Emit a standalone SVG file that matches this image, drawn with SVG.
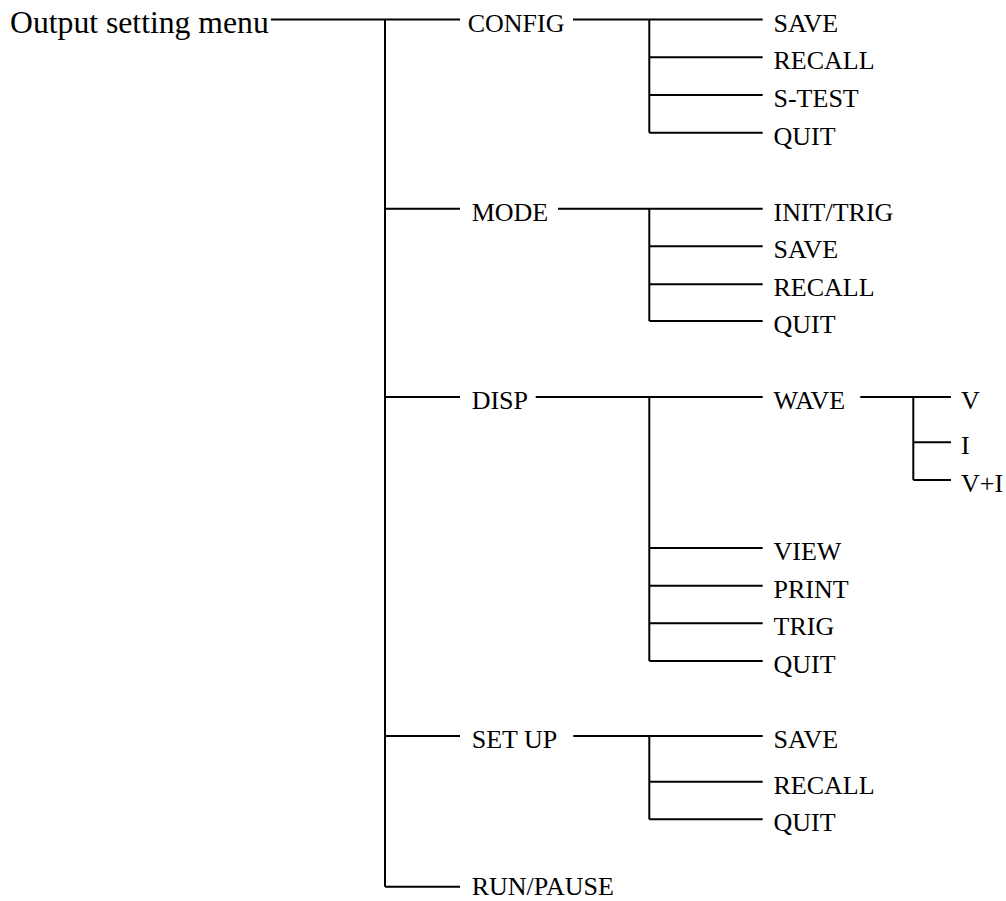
<svg xmlns="http://www.w3.org/2000/svg" width="1006" height="901" viewBox="0 0 1006 901">
<style>
.t{font-family:"Liberation Serif","Times New Roman",serif;font-size:26px;fill:#000}
.root{font-size:31.7px}
.c{stroke:#000;stroke-width:2;fill:none}
</style>
<rect width="1006" height="901" fill="#fff"/>
<g id="connectors" class="c">
<path d="M271 19.5H460M385 19.5V886.7"/>
<path d="M385 208.7H460M385 397H460M385 736H460M385 886.7H460"/>
<path d="M573 19.5H762.7M649.3 19.5V132.7M649.3 57.3H762.7M649.3 95H762.7M649.3 132.7H762.7"/>
<path d="M558 208.7H762.7M649.3 208.7V321M649.3 246.3H762.7M649.3 284.3H762.7M649.3 321H762.7"/>
<path d="M535.7 397H762.7M649.3 397V661M649.3 548H762.7M649.3 585.7H762.7M649.3 623.3H762.7M649.3 661H762.7"/>
<path d="M860.3 397H951M913.3 397V480M913.3 442.3H951M913.3 480H951"/>
<path d="M573.3 736H762.7M649.3 736V819.3M649.3 781.7H762.7M649.3 819.3H762.7"/>
</g>
<g id="root"><text class="t root" x="10" y="33">Output setting menu</text></g>
<g id="config"><text class="t" x="467.7" y="31.5">CONFIG</text></g>
<g id="config-save"><text class="t" x="773.5" y="31.5">SAVE</text></g>
<g id="config-recall"><text class="t" x="773.5" y="69.3">RECALL</text></g>
<g id="config-stest"><text class="t" x="773.5" y="107">S-TEST</text></g>
<g id="config-quit"><text class="t" x="773.5" y="144.7">QUIT</text></g>
<g id="mode"><text class="t" x="471.7" y="220.5">MODE</text></g>
<g id="mode-inittrig"><text class="t" x="773.5" y="220.5">INIT/TRIG</text></g>
<g id="mode-save"><text class="t" x="773.5" y="258.3">SAVE</text></g>
<g id="mode-recall"><text class="t" x="773.5" y="296.3">RECALL</text></g>
<g id="mode-quit"><text class="t" x="773.5" y="333">QUIT</text></g>
<g id="disp"><text class="t" x="471.7" y="409">DISP</text></g>
<g id="disp-wave"><text class="t" x="773.5" y="409">WAVE</text></g>
<g id="wave-v"><text class="t" x="961" y="409">V</text></g>
<g id="wave-i"><text class="t" x="961" y="454.3">I</text></g>
<g id="wave-vi"><text class="t" x="961" y="492">V+I</text></g>
<g id="disp-view"><text class="t" x="773.5" y="560">VIEW</text></g>
<g id="disp-print"><text class="t" x="773.5" y="597.7">PRINT</text></g>
<g id="disp-trig"><text class="t" x="773.5" y="635.3">TRIG</text></g>
<g id="disp-quit"><text class="t" x="773.5" y="673">QUIT</text></g>
<g id="setup"><text class="t" x="471.7" y="748">SET UP</text></g>
<g id="setup-save"><text class="t" x="773.5" y="748">SAVE</text></g>
<g id="setup-recall"><text class="t" x="773.5" y="793.7">RECALL</text></g>
<g id="setup-quit"><text class="t" x="773.5" y="831.3">QUIT</text></g>
<g id="runpause"><text class="t" x="471.7" y="895">RUN/PAUSE</text></g>
</svg>
